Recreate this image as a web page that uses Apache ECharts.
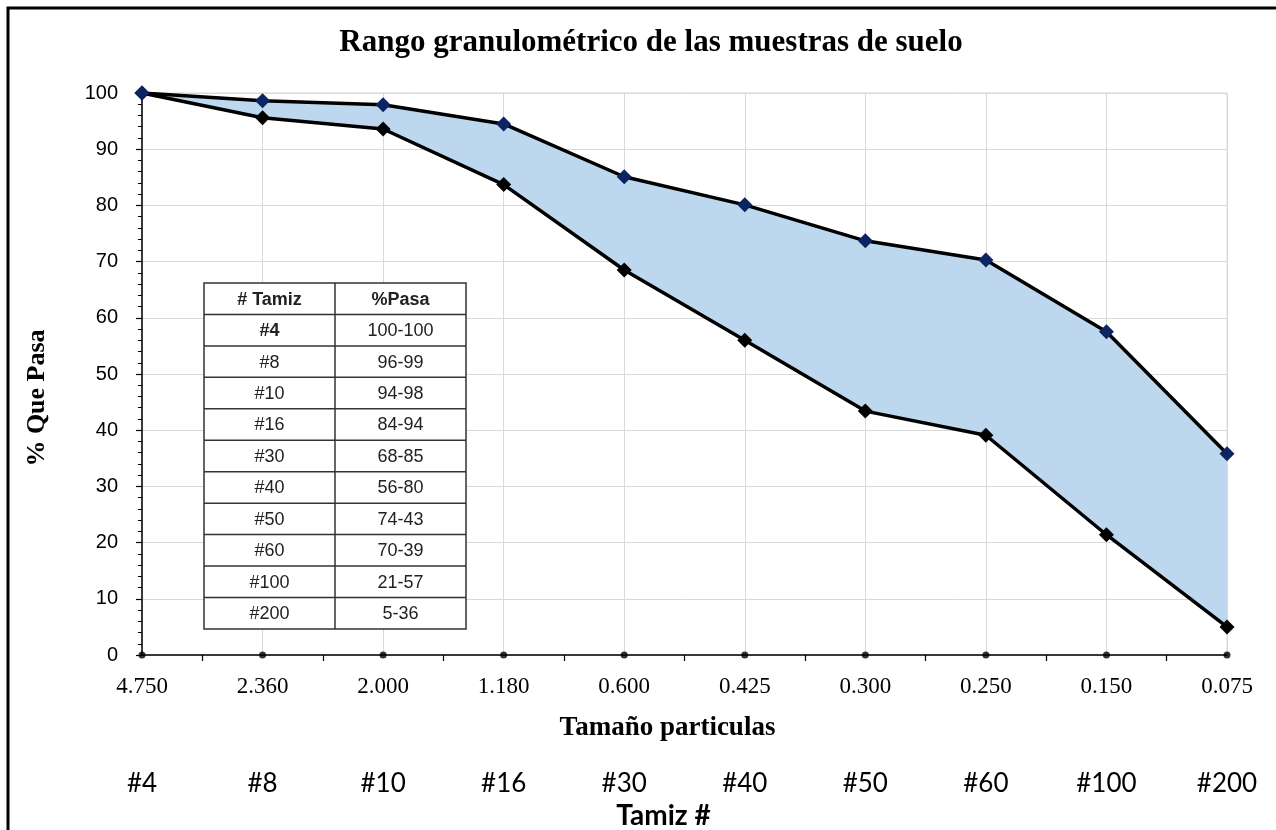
<!DOCTYPE html>
<html>
<head>
<meta charset="utf-8">
<title>Rango granulométrico</title>
<script src="https://cdn.jsdelivr.net/npm/echarts@6/dist/echarts.min.js"></script>
<style>
  html, body { margin: 0; padding: 0; background: #fff; }
  #chart { width: 1276px; height: 830px; }
</style>
</head>
<body>
<div id="chart"></div>
<script>
// tamaño de partícula (mm) y número de tamiz
const sizes = ['4.750', '2.360', '2.000', '1.180', '0.600', '0.425', '0.300', '0.250', '0.150', '0.075'];
const sieves = ['#4', '#8', '#10', '#16', '#30', '#40', '#50', '#60', '#100', '#200'];
// límites del rango (% que pasa)
const upper = [100, 98.6, 97.9, 94.5, 85.1, 80.1, 73.7, 70.3, 57.5, 35.8];
const lower = [100, 95.6, 93.6, 83.7, 68.5, 56.0, 43.4, 39.1, 21.4, 5.0];
// tabla insertada
const tableHead = ['# Tamiz', '%Pasa'];
const tableRanges = ['100-100', '96-99', '94-98', '84-94', '68-85', '56-80', '74-43', '70-39', '21-57', '5-36'];

const serif = '"Liberation Serif", "Times New Roman", serif';
const sans = '"Liberation Sans", Arial, sans-serif';
const narrow = '"Liberation Sans Narrow", "Liberation Sans", Arial, sans-serif';
const calibri = 'Lato, "Open Sans", sans-serif';

// tabla como elementos graphic
function buildTable() {
  const x0 = 204, x1 = 335, x2 = 466, y0 = 283, rowH = 31.45;
  const rows = [tableHead].concat(sieves.map((s, i) => [s, tableRanges[i]]));
  const els = [{
    type: 'rect',
    shape: { x: x0, y: y0, width: x2 - x0, height: rowH * rows.length },
    style: { fill: '#fff', stroke: '#333', lineWidth: 1.5 },
    z: 10
  }];
  rows.forEach((r, i) => {
    const y = y0 + i * rowH;
    if (i > 0) {
      els.push({ type: 'line', shape: { x1: x0, y1: y, x2: x2, y2: y }, style: { stroke: '#333', lineWidth: 1.5 }, z: 11 });
    }
    const bold = i === 0 || i === 1;
    els.push({
      type: 'text', x: (x0 + x1) / 2, y: y + rowH / 2 + 1, z: 12,
      style: { text: r[0], font: (bold ? 'bold ' : '') + '18px ' + narrow, fill: '#222', align: 'center', verticalAlign: 'middle' }
    });
    els.push({
      type: 'text', x: (x1 + x2) / 2, y: y + rowH / 2 + 1, z: 12,
      style: { text: r[1], font: (i === 0 ? 'bold ' : '') + '18px ' + narrow, fill: '#222', align: 'center', verticalAlign: 'middle' }
    });
  });
  els.push({ type: 'line', shape: { x1: x1, y1: y0, x2: x1, y2: y0 + rowH * rows.length }, style: { stroke: '#333', lineWidth: 1.5 }, z: 11 });
  return els;
}

const chart = echarts.init(document.getElementById('chart'));

chart.setOption({
  backgroundColor: '#fff',
  animation: false,
  title: {
    text: 'Rango granulométrico de las muestras de suelo',
    left: 646,
    top: 22,
    textAlign: 'center',
    textStyle: { fontFamily: serif, fontWeight: 'bold', fontSize: 31, color: '#000' }
  },
  grid: {
    left: 142, right: 49, top: 93, bottom: 175,
    outerBoundsMode: 'none',
    show: true, borderColor: '#d9d9d9', borderWidth: 1
  },
  xAxis: [
    {
      type: 'category',
      data: sizes,
      boundaryGap: false,
      axisLine: { lineStyle: { color: '#000', width: 1.5 } },
      axisTick: { show: false },
      axisLabel: { fontFamily: serif, fontSize: 23, color: '#000', margin: 20 },
      splitLine: { show: true, lineStyle: { color: '#d9d9d9' } },
      name: 'Tamaño particulas',
      nameLocation: 'middle',
      nameGap: 60,
      nameTextStyle: { fontFamily: serif, fontWeight: 'bold', fontSize: 27, color: '#000', padding: [0, 34, 0, 0] }
    },
    {
      // marcas entre categorías
      type: 'category',
      data: sizes.slice(1),
      boundaryGap: true,
      position: 'bottom',
      axisLine: { show: false },
      axisTick: { show: true, alignWithLabel: true, length: 6, lineStyle: { color: '#000', width: 1.2 } },
      axisLabel: { show: false },
      splitLine: { show: false }
    },
    {
      type: 'category',
      data: sieves,
      boundaryGap: false,
      position: 'bottom',
      axisLine: { show: false },
      axisTick: { show: false },
      axisLabel: { fontFamily: calibri, fontSize: 26, color: '#000', margin: 116 },
      splitLine: { show: false },
      name: 'Tamiz #',
      nameLocation: 'middle',
      nameGap: 127,
      nameTextStyle: { fontFamily: calibri, fontWeight: 'bold', fontSize: 28, color: '#000', padding: [0, 42, 0, 0] }
    }
  ],
  yAxis: {
    type: 'value',
    min: 0,
    max: 100,
    interval: 10,
    axisLine: { show: true, lineStyle: { color: '#000', width: 1.5 } },
    axisTick: { show: true, length: 6, lineStyle: { color: '#000', width: 1.2 } },
    minorTick: { show: true, splitNumber: 5, length: 4, lineStyle: { color: '#000' } },
    axisLabel: { fontFamily: sans, fontSize: 20, color: '#000', margin: 24 },
    splitLine: { show: true, lineStyle: { color: '#d9d9d9' } },
    name: '% Que Pasa',
    nameLocation: 'middle',
    nameGap: 92,
    nameTextStyle: { fontFamily: serif, fontWeight: 'bold', fontSize: 26, color: '#000', padding: [0, 48, 0, 0] }
  },
  series: [
    {
      name: 'base',
      type: 'line',
      stack: 'rango',
      data: lower,
      symbol: 'none',
      lineStyle: { opacity: 0 },
      silent: true,
      z: 1
    },
    {
      name: 'rango',
      type: 'line',
      stack: 'rango',
      data: upper.map((u, i) => u - lower[i]),
      symbol: 'none',
      lineStyle: { opacity: 0 },
      areaStyle: { color: '#bdd7ee', opacity: 1 },
      silent: true,
      z: 1
    },
    {
      name: 'Límite inferior',
      type: 'line',
      data: lower,
      symbol: 'diamond',
      symbolSize: 15,
      lineStyle: { color: '#000', width: 3.5 },
      itemStyle: { color: '#000' },
      z: 3
    },
    {
      name: 'Límite superior',
      type: 'line',
      data: upper,
      symbol: 'diamond',
      symbolSize: 15,
      lineStyle: { color: '#000', width: 3.5 },
      itemStyle: { color: '#0d2463' },
      z: 4
    },
    {
      // puntos sobre el eje x
      name: 'eje',
      type: 'scatter',
      data: sizes.map(() => 0),
      symbol: 'circle',
      symbolSize: 7,
      itemStyle: { color: '#000' },
      clip: false,
      silent: true,
      z: 5
    }
  ],
  graphic: [
    {
      type: 'polyline',
      shape: { points: [[8, 832], [8, 8], [1278, 8]] },
      style: { stroke: '#000', lineWidth: 3, fill: null },
      z: 20
    }
  ].concat(buildTable())
});
</script>
</body>
</html>
